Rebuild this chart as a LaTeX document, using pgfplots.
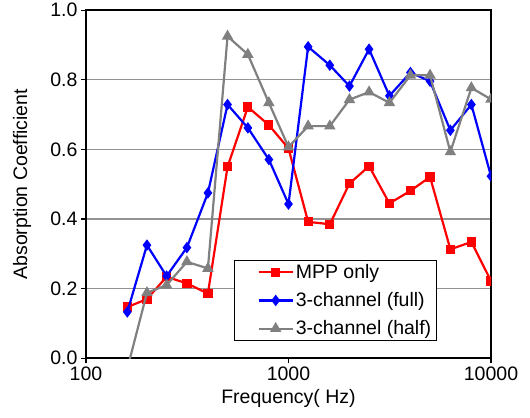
\documentclass[border=0pt]{standalone}
\usepackage{pgfplots}
\pgfplotsset{compat=1.18}
\usepackage{fontspec}
\setmainfont{Liberation Sans}
\begin{document}
\begin{tikzpicture}
\begin{axis}[name=ax,
  scale only axis, width=405pt, height=348pt,
  xmode=log, xmin=100, xmax=10000,
  ymin=0, ymax=1,
  font=\fontsize{19.5}{22}\selectfont,
  xtick={100,1000,10000}, xticklabels={100,1000,10000},
  ytick={0,0.2,0.4,0.6,0.8,1.0},
  yticklabels={0.0,0.2,0.4,0.6,0.8,1.0},
  minor xtick={}, log basis x=10,
  tick pos=left, tick align=outside,
  major tick length=5pt,
  every tick/.style={black, line width=1.2pt},
  ymajorgrids, major grid style={gray!85, line width=1.3pt},
  axis line style={line width=2pt},
  clip marker paths=true,
  xlabel={Frequency( Hz)},
  ylabel={Absorption Coefficient},
  ylabel style={at={(axis description cs:-0.158,0.5)}, anchor=center},
  xlabel style={at={(axis description cs:0.5,-0.115)}, anchor=center},
  legend style={at={(rel axis cs:0.365,0.049)}, anchor=south west,
    draw=black, line width=1.5pt, inner xsep=3pt, inner ysep=2pt,
    row sep=8.5pt, font=\fontsize{19.5}{22}\selectfont},
  legend cell align=left,
  legend image code/.code={
    \path (-20pt,0pt) (0pt,0pt);
    \draw[mark repeat=2, mark phase=2, line width=2.2pt] plot coordinates {(0pt,0pt) (17pt,0pt) (34pt,0pt)};
  },
]
\addplot[red, line width=2.2pt, mark=square*, mark size=3.5pt, mark options={solid}] coordinates {
(160,0.147) (200,0.170) (250,0.234) (315,0.215) (400,0.186) (500,0.550)
(630,0.722) (800,0.670) (1000,0.603) (1250,0.392) (1600,0.385) (2000,0.502)
(2500,0.552) (3150,0.445) (4000,0.481) (5000,0.521) (6300,0.313) (8000,0.334) (10000,0.222)};
\addlegendentry{MPP only}
\addplot[blue, line width=2.2pt, mark=diamond*, mark size=4pt] coordinates {
(160,0.133) (200,0.325) (250,0.236) (315,0.318) (400,0.475) (500,0.729)
(630,0.662) (800,0.571) (1000,0.443) (1250,0.895) (1600,0.842) (2000,0.782)
(2500,0.888) (3150,0.754) (4000,0.821) (5000,0.796) (6300,0.655) (8000,0.729) (10000,0.523)};
\addlegendentry{3-channel (full)}
\addplot[gray, line width=2.2pt, mark=triangle*, mark size=4.5pt] coordinates {
(160,-0.03) (200,0.188) (250,0.210) (315,0.277) (400,0.258) (500,0.925)
(630,0.873) (800,0.734) (1000,0.607) (1250,0.667) (1600,0.667) (2000,0.743)
(2500,0.765) (3150,0.734) (4000,0.813) (5000,0.813) (6300,0.593) (8000,0.777) (10000,0.744)};
\addlegendentry{3-channel (half)}
\end{axis}
\path ([xshift=-86pt,yshift=-59pt]ax.south west) rectangle ([xshift=39pt,yshift=10pt]ax.north east);
\end{tikzpicture}
\end{document}
